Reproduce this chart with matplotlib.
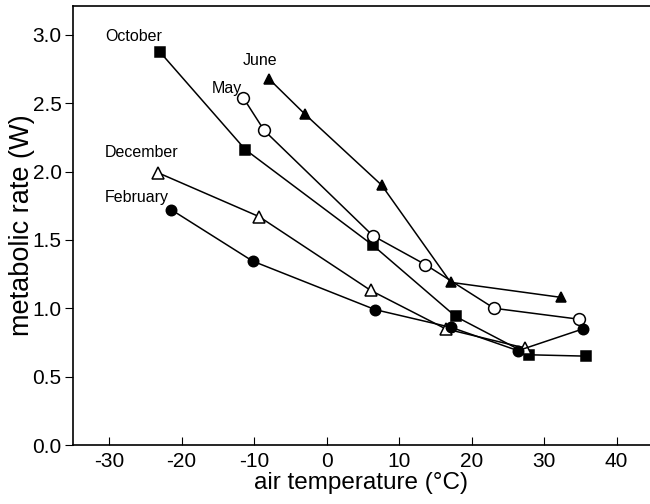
import matplotlib.pyplot as plt

plt.rcParams['font.family'] = ['Liberation Sans', 'DejaVu Sans']
plt.rcParams['axes.unicode_minus'] = False

# metabolic rate vs air temperature, per month
oct_t = [-23.0, -11.2, 6.4, 17.8, 27.9, 35.8]
oct_w = [2.875, 2.16, 1.46, 0.94, 0.66, 0.65]

may_t = [-11.5, -8.6, 6.4, 13.6, 23.1, 34.8]
may_w = [2.54, 2.30, 1.53, 1.32, 1.00, 0.92]

jun_t = [-8.0, -3.0, 7.6, 17.1, 32.3]
jun_w = [2.68, 2.42, 1.90, 1.19, 1.08]

dec_t = [-23.2, -9.3, 6.1, 16.4, 27.3]
dec_w = [1.99, 1.67, 1.13, 0.85, 0.71]

feb_t = [-21.4, -10.2, 6.7, 17.2, 26.4, 35.4]
feb_w = [1.72, 1.345, 0.99, 0.86, 0.69, 0.85]

fig = plt.figure(figsize=(6.5, 5.04), dpi=100)
ax = fig.add_axes([0.112, 0.117, 0.888, 0.871])

line = dict(color='black', lw=1.1, markeredgecolor='black', markeredgewidth=1.1)
ax.plot(oct_t, oct_w, marker='s', markerfacecolor='black', markersize=7, **line)
ax.plot(may_t, may_w, marker='o', markerfacecolor='white', markersize=8.5, **line)
ax.plot(jun_t, jun_w, marker='^', markerfacecolor='black', markersize=7.5, **line)
ax.plot(dec_t, dec_w, marker='^', markerfacecolor='white', markersize=8.5, **line)
ax.plot(feb_t, feb_w, marker='o', markerfacecolor='black', markersize=7.5, **line)

lab = dict(fontsize=11.5, ha='center', va='center')
ax.text(-26.6, 2.99, 'October', **lab)
ax.text(-9.2, 2.81, 'June', **lab)
ax.text(-13.8, 2.61, 'May', **lab)
ax.text(-25.5, 2.14, 'December', **lab)
ax.text(-26.2, 1.81, 'February', **lab)

ax.set_xlim(-35, 44.6)
ax.set_ylim(0, 3.21)
ax.set_xticks([-30, -20, -10, 0, 10, 20, 30, 40])
ax.set_yticks([0.0, 0.5, 1.0, 1.5, 2.0, 2.5, 3.0])
ax.set_yticklabels(['0.0', '0.5', '1.0', '1.5', '2.0', '2.5', '3.0'])
ax.tick_params(axis='x', direction='in', length=6, labelsize=15, pad=5)
ax.tick_params(axis='y', direction='out', length=6, labelsize=15, pad=2)
ax.spines['right'].set_visible(False)
for s in ['left', 'bottom', 'top']:
    ax.spines[s].set_linewidth(1.2)

ax.set_xlabel('air temperature (°C)', fontsize=17.5, labelpad=1)
ax.set_ylabel('metabolic rate (W)', fontsize=19.5, labelpad=-2)

fig.savefig('out.png', dpi=100)
